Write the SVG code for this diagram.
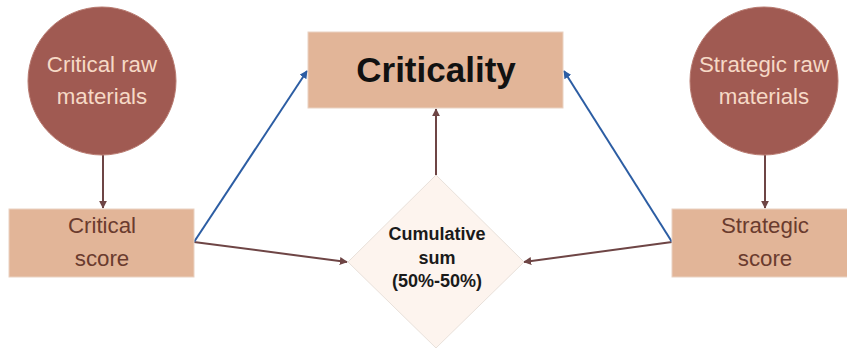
<svg xmlns="http://www.w3.org/2000/svg" width="847" height="348" viewBox="0 0 847 348">
<defs>
<style>
.circ{fill:#a05a52;stroke:#b87a70;stroke-width:1}
.box{fill:#e2b598;stroke:#ead2c2;stroke-width:1}
.ctext{font-family:"Liberation Sans",Arial,sans-serif;font-size:22.3px;fill:#f6d9c6;text-anchor:middle}
.btext{font-family:"Liberation Sans",Arial,sans-serif;font-size:22.3px;fill:#6a3b2e;text-anchor:middle}
.brown{stroke:#6e4545;stroke-width:2;fill:none;marker-end:url(#ab)}
.blue{stroke:#2c5da3;stroke-width:2;fill:none;marker-end:url(#au)}
</style>
<marker id="ab" viewBox="0 0 10 10" refX="9" refY="5" markerWidth="4" markerHeight="4" orient="auto" markerUnits="strokeWidth"><path d="M0,0 L10,5 L0,10 z" fill="#6e4545"/></marker>
<marker id="au" viewBox="0 0 10 10" refX="9" refY="5" markerWidth="4" markerHeight="4" orient="auto" markerUnits="strokeWidth"><path d="M0,0 L10,5 L0,10 z" fill="#2c5da3"/></marker>
</defs>
<rect width="847" height="348" fill="#ffffff"/>
<g id="connectors">
<line class="brown" x1="103" y1="155" x2="103" y2="208"/>
<line class="brown" x1="765" y1="155" x2="765" y2="208"/>
<line class="brown" x1="436" y1="175" x2="436" y2="109"/>
<line class="brown" x1="194" y1="242" x2="347" y2="262"/>
<line class="brown" x1="672" y1="242" x2="524" y2="262"/>
<line class="blue" x1="194" y1="242" x2="307" y2="71"/>
<line class="blue" x1="672" y1="242" x2="564" y2="71"/>
</g>
<g id="critical-raw">
<circle class="circ" cx="102" cy="81" r="74"/>
<text class="ctext" x="102" y="72">Critical raw</text>
<text class="ctext" x="102" y="104">materials</text>
</g>
<g id="strategic-raw">
<circle class="circ" cx="764" cy="81" r="74"/>
<text class="ctext" x="764" y="72">Strategic raw</text>
<text class="ctext" x="764" y="104">materials</text>
</g>
<g id="critical-score">
<rect class="box" x="9" y="209" width="185" height="68"/>
<text class="btext" x="102" y="233">Critical</text>
<text class="btext" x="102" y="266">score</text>
</g>
<g id="strategic-score">
<rect class="box" x="672" y="209" width="176" height="68"/>
<text class="btext" x="765" y="233">Strategic</text>
<text class="btext" x="765" y="266">score</text>
</g>
<g id="criticality">
<rect class="box" x="308" y="32" width="255" height="76"/>
<text x="436" y="82" font-family="'Liberation Sans',Arial,sans-serif" font-size="35" font-weight="bold" fill="#111111" text-anchor="middle">Criticality</text>
</g>
<g id="cumulative">
<polygon points="436,175 524,262 436,348 348,262" fill="#fdf4ee" stroke="#e8e0da" stroke-width="1"/>
<g font-family="'Liberation Sans',Arial,sans-serif" font-size="18" font-weight="bold" fill="#1a1a1a" text-anchor="middle">
<text x="437" y="240">Cumulative</text>
<text x="437" y="264">sum</text>
<text x="437" y="287">(50%-50%)</text>
</g>
</g>
</svg>
